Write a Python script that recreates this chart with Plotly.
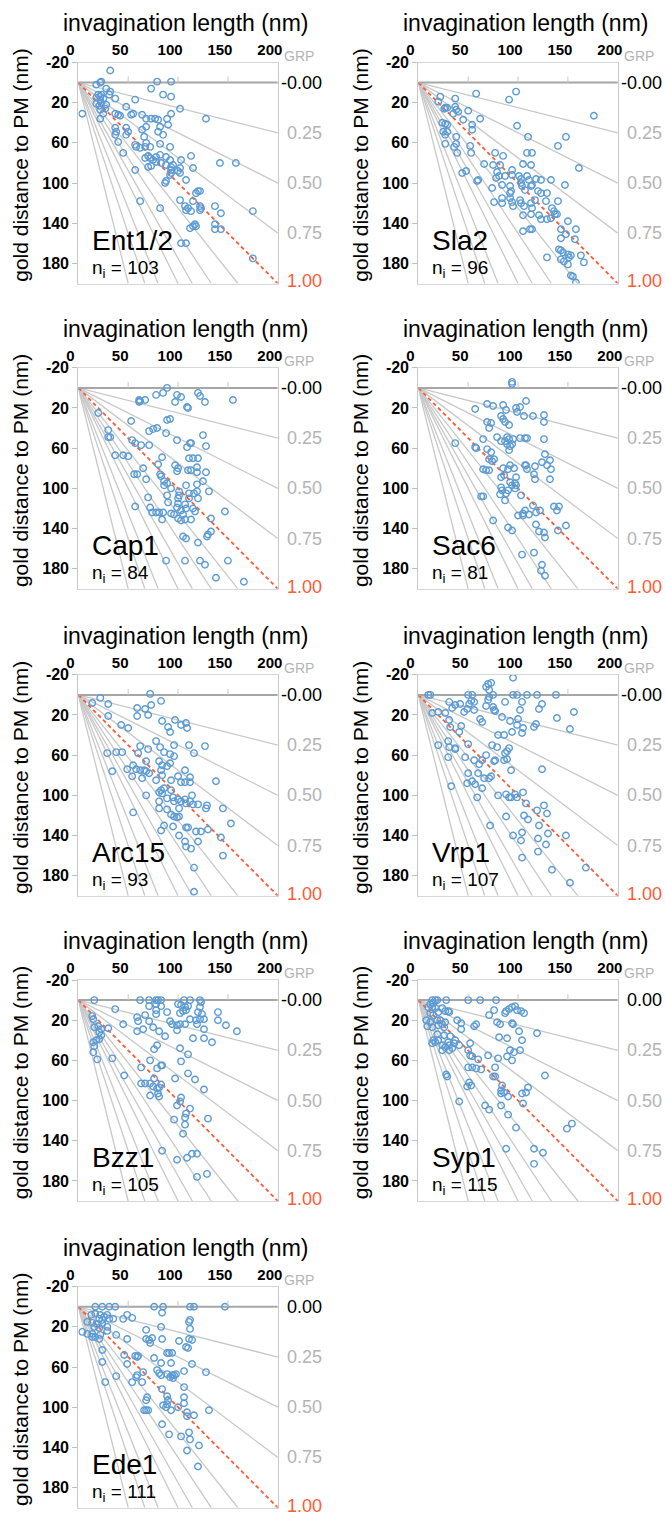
import plotly.graph_objects as go

W, H = 665, 1517

# ---------------- data ----------------
panel_names = ["Ent1/2", "Sla2", "Cap1", "Sac6", "Arc15", "Vrp1", "Bzz1", "Syp1", "Ede1"]
panel_counts = [103, 96, 84, 81, 93, 107, 105, 115, 111]

ent12 = [(32,-12),(18,2),(22,0),(23,-1),(79,-1),(93,-1),(73,6),(85,12),(93,14),(28,6),(32,9),(31,12),
         (20,12),(22,14),(23,12),(18,15),(22,17),(25,16),(57,17),(37,16),(18,21),(21,23),(23,20),(28,22),
         (4,31),(22,27),(27,26),(25,31),(22,36),(48,24),(102,26),(37,31),(40,32),(42,33),(55,31),(53,32),
         (64,32),(68,36),(73,36),(77,36),(80,37),(82,44),(89,36),(93,31),(128,36),(90,42),(37,45),(38,49),
         (37,52),(48,45),(50,49),(48,52),(40,59),(64,47),(66,54),(68,44),(80,49),(85,52),(45,70),(57,62),
         (58,64),(62,65),(67,64),(68,60),(72,64),(82,61),(92,64),(57,87),(62,118),(67,75),(70,73),(72,75),
         (75,77),(78,74),(82,72),(70,84),(73,83),(78,79),(83,80),(88,74),(88,82),(92,77),(93,84),(93,87),
         (95,82),(93,90),(92,92),(88,98),(87,100),(102,85),(100,88),(102,90),(103,77),(113,73),(115,85),
         (108,97),(102,117),(82,125),(107,123),(108,127),(110,125),(113,128),(118,110),(120,108),(122,108),
         (115,118),(122,123),(123,125),(122,127),(117,141),(118,143),(115,143),(112,145),(103,160),(108,160),
         (142,80),(158,80),(137,123),(137,141),(137,146),(143,130),(143,146),(175,128),(175,175)]

sla2 = [(58,11),(98,9),(91,17),(22,14),(20,19),(37,16),(27,25),(29,25),(26,26),(37,24),(38,27),(35,31),
        (40,29),(50,28),(45,37),(62,36),(99,43),(24,40),(27,41),(29,42),(25,49),(29,49),(27,52),(54,42),
        (54,47),(38,54),(110,54),(148,54),(140,63),(27,61),(38,61),(36,64),(39,70),(52,63),(53,70),(77,70),
        (85,73),(109,70),(114,70),(66,81),(75,82),(82,82),(105,81),(113,82),(161,85),(44,90),(48,88),(59,98),
        (60,97),(79,89),(78,95),(81,93),(87,93),(94,92),(94,87),(101,93),(103,96),(109,93),(111,97),(118,96),
        (123,97),(133,97),(147,102),(74,105),(84,102),(92,103),(93,108),(92,110),(103,100),(104,103),(107,107),
        (113,103),(114,102),(120,108),(123,110),(129,110),(76,119),(84,115),(84,120),(92,115),(94,119),(95,123),
        (102,117),(103,120),(106,123),(113,120),(114,125),(117,117),(128,118),(140,118),(134,125),(136,128),
        (137,131),(105,132),(113,131),(121,132),(123,136),(133,135),(129,136),(139,131),(105,148),(112,146),
        (114,146),(150,138),(143,146),(148,151),(143,155),(158,146),(141,166),(143,167),(145,169),(150,171),
        (153,172),(151,174),(143,176),(146,178),(150,181),(129,174),(163,172),(166,179),(157,156),(153,192),
        (155,193),(158,199),(176,33)]

cap1 = [(89,0),(85,5),(78,7),(61,12),(61,14),(62,13),(67,12),(99,7),(103,9),(97,14),(109,19),(110,20),
        (120,5),(122,8),(127,14),(155,12),(20,25),(53,33),(89,32),(92,31),(71,43),(75,41),(79,40),(30,42),
        (30,49),(32,49),(88,45),(99,52),(112,55),(113,55),(109,59),(125,47),(128,58),(54,52),(57,55),(63,57),
        (71,57),(37,67),(45,67),(50,68),(84,69),(65,80),(80,76),(56,86),(59,86),(82,86),(83,88),(68,91),
        (97,77),(100,80),(99,83),(111,70),(115,70),(120,70),(110,82),(113,82),(119,79),(119,84),(128,84),
        (125,93),(86,93),(89,95),(86,97),(93,100),(108,97),(119,96),(131,103),(101,103),(101,107),(100,110),
        (89,107),(111,105),(111,110),(116,105),(119,103),(70,109),(90,114),(100,115),(99,119),(107,116),
        (108,120),(120,110),(115,120),(117,123),(72,119),(74,124),(78,124),(81,124),(85,124),(93,125),(96,126),
        (103,122),(100,130),(103,132),(107,131),(105,126),(113,131),(57,118),(84,131),(133,130),(147,123),
        (133,143),(130,146),(129,148),(105,148),(108,150),(120,154),(88,172),(107,172),(122,172),(127,176),
        (150,172),(138,189),(166,193)]

sac6 = [(94,-6),(94,-4),(57,21),(69,16),(75,18),(85,17),(88,22),(98,20),(102,19),(99,24),(108,13),(106,28),
        (115,28),(126,27),(126,34),(83,28),(85,31),(87,34),(69,34),(73,35),(71,40),(91,37),(37,55),(65,51),
        (79,49),(83,53),(87,53),(89,49),(91,51),(95,51),(89,56),(92,58),(94,56),(102,50),(107,50),(109,50),
        (126,51),(57,59),(58,60),(69,61),(73,64),(71,71),(76,71),(74,73),(91,62),(127,66),(108,77),(109,81),
        (107,77),(117,78),(124,74),(129,77),(132,72),(65,81),(68,82),(71,82),(85,80),(90,81),(92,77),(96,80),
        (86,87),(83,89),(98,89),(116,86),(117,91),(133,81),(132,91),(92,94),(94,97),(97,95),(83,99),(84,102),
        (82,106),(88,105),(90,102),(97,100),(98,97),(103,107),(87,112),(63,108),(65,108),(115,117),(118,124),
        (100,127),(105,125),(107,122),(111,126),(105,127),(122,122),(136,118),(141,118),(139,122),(75,132),
        (118,136),(90,139),(94,142),(121,143),(126,144),(127,149),(140,142),(148,137),(104,166),(116,164),
        (124,176),(123,182),(127,187)]

arc15 = [(72,-1),(83,6),(73,10),(22,3),(14,8),(30,9),(59,13),(67,14),(59,21),(70,20),(30,21),(43,30),(50,33),
         (84,26),(90,32),(92,37),(97,25),(103,30),(108,28),(109,33),(78,46),(82,52),(62,51),(60,58),(70,54),
         (96,50),(111,50),(127,51),(116,58),(29,58),(38,57),(44,57),(86,57),(92,59),(96,61),(68,66),(55,70),
         (58,74),(62,75),(66,75),(68,76),(81,66),(84,70),(89,71),(92,68),(34,76),(49,74),(54,81),(64,83),
         (71,78),(83,75),(84,80),(78,85),(107,75),(100,81),(103,87),(107,87),(112,82),(112,87),(93,85),(138,86),
         (83,95),(81,97),(86,93),(84,98),(93,95),(68,100),(89,103),(95,102),(96,106),(100,104),(103,106),
         (107,104),(108,108),(112,106),(114,100),(115,109),(120,109),(129,110),(81,106),(81,113),(101,113),
         (89,114),(93,119),(96,121),(99,122),(101,121),(128,113),(145,113),(55,117),(108,132),(110,132),
         (86,130),(95,131),(83,135),(118,136),(123,136),(130,134),(153,128),(143,142),(101,140),(107,146),
         (108,151),(113,153),(120,146),(145,160),(116,172),(116,196)]

vrp1 = [(95,-17),(70,-11),(73,-12),(68,-8),(71,-5),(10,0),(12,0),(50,0),(54,0),(75,0),(95,0),(99,0),(109,0),
        (119,0),(138,0),(53,6),(51,9),(56,7),(70,5),(71,2),(87,7),(31,7),(37,10),(42,9),(34,13),(46,17),
        (49,14),(56,15),(68,11),(75,12),(76,15),(77,16),(104,7),(124,9),(121,14),(102,15),(156,17),(14,18),
        (20,17),(27,18),(62,24),(64,27),(84,22),(92,26),(100,24),(99,30),(105,33),(104,38),(118,29),(116,32),
        (139,23),(152,34),(31,25),(32,32),(43,31),(41,37),(94,37),(80,40),(86,40),(20,50),(30,46),(31,52),
        (37,53),(37,54),(50,49),(74,50),(79,52),(87,58),(89,56),(91,53),(89,64),(86,65),(77,65),(76,66),
        (68,60),(30,62),(47,62),(56,65),(61,69),(64,65),(93,75),(124,74),(50,78),(60,78),(66,83),(71,83),
        (73,81),(49,88),(54,86),(57,89),(64,93),(59,102),(33,91),(80,100),(88,99),(91,102),(93,102),(97,99),
        (99,102),(105,97),(108,108),(119,115),(126,110),(129,118),(88,121),(106,120),(110,124),(121,130),
        (72,130),(104,137),(95,140),(103,145),(120,143),(130,138),(128,149),(148,140),(120,156),(104,162),
        (134,174),(168,172),(152,187)]

bzz1 = [(16,0),(62,0),(71,0),(78,0),(80,0),(83,0),(106,0),(112,0),(122,0),(123,2),(71,6),(78,4),(83,6),
        (100,4),(103,5),(107,7),(110,6),(108,10),(105,11),(102,13),(122,7),(120,12),(37,9),(78,10),(78,14),
        (89,12),(140,12),(140,20),(124,14),(122,19),(126,19),(59,17),(60,21),(71,21),(67,15),(45,24),(92,21),
        (94,24),(99,25),(102,24),(107,24),(112,19),(118,20),(119,24),(148,25),(159,31),(14,16),(15,19),
        (16,27),(20,26),(23,29),(21,32),(23,35),(21,39),(18,40),(30,28),(15,42),(16,46),(15,52),(19,59),
        (59,31),(65,29),(75,27),(81,31),(87,36),(99,30),(126,29),(115,38),(126,38),(134,42),(79,45),(76,49),
        (102,48),(110,54),(103,61),(72,60),(34,58),(63,67),(79,68),(83,65),(84,65),(46,75),(76,78),(97,78),
        (110,73),(117,79),(63,83),(67,83),(72,83),(75,86),(79,88),(81,87),(83,84),(80,93),(81,96),(72,95),
        (126,89),(103,97),(102,101),(99,105),(112,108),(108,113),(107,117),(96,119),(107,124),(130,118),
        (105,133),(84,150),(99,159),(109,157),(114,153),(119,153),(119,176),(129,173)]

syp1 = [(14,0),(17,0),(19,0),(28,0),(50,0),(62,0),(78,0),(12,4),(15,3),(14,7),(10,7),(17,8),(24,8),(27,11),
        (30,11),(31,12),(20,12),(12,13),(15,15),(8,20),(12,22),(9,26),(14,27),(19,20),(22,20),(24,24),(27,22),
        (26,27),(20,25),(39,20),(43,23),(43,29),(56,26),(58,24),(71,15),(76,10),(87,13),(88,11),(91,9),(94,7),
        (97,6),(99,10),(103,11),(106,13),(79,22),(82,24),(94,23),(95,24),(101,31),(119,33),(81,37),(89,38),
        (104,40),(19,34),(26,35),(32,36),(37,40),(15,40),(14,43),(17,42),(20,40),(24,50),(24,45),(27,47),
        (31,45),(31,50),(34,48),(30,42),(36,43),(41,45),(52,43),(50,50),(52,55),(54,56),(60,59),(70,55),
        (80,58),(89,56),(92,50),(96,52),(102,50),(94,60),(50,67),(54,67),(58,68),(63,69),(77,67),(28,74),
        (29,76),(75,76),(77,76),(127,75),(51,82),(53,85),(49,86),(84,85),(83,90),(83,93),(86,92),(90,96),
        (104,93),(108,92),(110,87),(41,101),(67,105),(71,109),(83,105),(90,114),(105,103),(98,127),(149,128),
        (154,123),(88,148),(116,148),(125,152),(116,163)]

ede1 = [(17,0),(24,0),(31,0),(37,0),(76,0),(85,0),(112,0),(116,0),(147,0),(13,8),(17,7),(22,8),(26,10),
        (29,8),(21,12),(24,13),(31,12),(35,12),(45,12),(49,8),(54,11),(84,6),(112,13),(111,15),(112,22),
        (9,15),(14,16),(19,17),(24,17),(16,20),(21,21),(29,20),(29,24),(4,25),(9,27),(14,27),(17,30),(22,28),
        (21,32),(14,30),(38,28),(49,32),(68,23),(83,20),(68,32),(71,33),(74,31),(72,36),(84,32),(101,34),
        (111,32),(114,33),(108,40),(110,41),(24,43),(24,55),(27,75),(38,69),(46,48),(49,57),(57,49),(60,49),
        (59,50),(76,51),(83,56),(89,46),(91,46),(94,46),(93,56),(114,57),(54,75),(58,70),(59,68),(64,75),
        (65,65),(79,63),(81,66),(83,68),(89,67),(92,70),(95,71),(94,68),(96,68),(98,67),(106,64),(128,65),
        (84,82),(68,93),(69,90),(66,103),(68,103),(70,103),(89,89),(90,93),(89,97),(85,98),(88,100),(93,103),
        (100,100),(106,80),(106,90),(106,96),(109,105),(109,109),(116,108),(131,103),(84,117),(91,127),
        (103,129),(111,125),(112,132),(109,143),(121,138),(120,159)]

panel_points = [ent12, sla2, cap1, sac6, arc15, vrp1, bzz1, syp1, ede1]

x_ticks = [0, 50, 100, 150, 200]
y_ticks = [-20, 20, 60, 100, 140, 180]
zero_ticks = [50, 100, 150]
grp_shallow = [0.25, 0.50, 0.75]                      # GRP lines ending on the right edge
grp_steep = [1.25, 1.5, 1.75, 2.0, 2.5, 3.0, 4.0]     # GRP lines ending on the bottom edge
grp_labels = [0.00, 0.25, 0.50, 0.75, 1.00]
dash_zero = [True, True, True, True, True, True, True, False, False]

XMAX, YMIN, YMAX = 200, -20, 200

# ---------------- style / layout geometry ----------------
FONT = "Liberation Sans, Arial, Helvetica, sans-serif"
NARROW = "Liberation Sans Narrow, Arial Narrow, Liberation Sans, Arial, sans-serif"
BLUE = "#5B9BD5"
RED = "#FF5A36"
GRID = "#C8C8C8"
LBLGRAY = "#B4B4B4"

col_x0 = [78.3, 418.3]
pw = 199.5
row_top = [62.5, 367.8, 674.8, 980.0, 1286.7]
ph = 221.0

fig = go.Figure()
annotations = []
shapes = []
layout_axes = {}

for i, name in enumerate(panel_names):
    k = i + 1
    r, c = divmod(i, 2)
    x0 = col_x0[c]
    top = row_top[r]
    xa = "x" if k == 1 else f"x{k}"
    ya = "y" if k == 1 else f"y{k}"
    xkey = "xaxis" if k == 1 else f"xaxis{k}"
    ykey = "yaxis" if k == 1 else f"yaxis{k}"

    layout_axes[xkey] = dict(
        domain=[x0 / W, (x0 + pw) / W], anchor=ya, range=[0, XMAX], side="top",
        tickvals=x_ticks, ticktext=[str(v) for v in x_ticks], ticks="",
        ticklabelshift=-8,
        tickfont=dict(family=NARROW, size=15, color="black", weight="bold"),
        showgrid=False, zeroline=False, showline=True, linecolor="#D6D6D6", linewidth=1.2,
        mirror=True, fixedrange=True, automargin=False,
    )
    layout_axes[ykey] = dict(
        domain=[1 - (top + ph) / H, 1 - top / H], anchor=xa, range=[YMAX, YMIN],
        tickvals=y_ticks, ticktext=[str(v) for v in y_ticks], ticks="outside", ticklen=5,
        tickcolor="#BFBFBF", tickwidth=1.2,
        tickfont=dict(family=FONT, size=16, color="black", weight="bold"),
        showgrid=False, zeroline=False, showline=True, linecolor="#C8C8C8", linewidth=1.2,
        mirror=True, fixedrange=True, automargin=False,
    )

    # GRP fan lines
    lx, ly = [], []
    for g in grp_shallow:
        lx += [0, XMAX, None]
        ly += [0, XMAX * g, None]
    for g in grp_steep:
        lx += [0, YMAX / g, None]
        ly += [0, YMAX, None]
    fig.add_trace(go.Scatter(x=lx, y=ly, xaxis=xa, yaxis=ya, mode="lines",
                             line=dict(color=GRID, width=1.3), hoverinfo="skip"))
    # GRP = 1 (dashed red)
    fig.add_trace(go.Scatter(x=[0, XMAX], y=[0, XMAX], xaxis=xa, yaxis=ya, mode="lines",
                             line=dict(color=RED, width=1.8, dash="4px,3px"), hoverinfo="skip"))
    # GRP = 0 (membrane line)
    fig.add_trace(go.Scatter(x=[0, XMAX], y=[0, 0], xaxis=xa, yaxis=ya, mode="lines",
                             line=dict(color="#A6A6A6", width=2), hoverinfo="skip"))
    for t in zero_ticks:
        shapes.append(dict(type="line", xref=xa, yref=ya, x0=t, x1=t, y0=0, y1=-6,
                           line=dict(color="#C8C8C8", width=1)))

    pts = panel_points[i]
    fig.add_trace(go.Scatter(
        x=[p[0] for p in pts], y=[p[1] for p in pts], xaxis=xa, yaxis=ya, mode="markers",
        marker=dict(symbol="circle-open", size=6.5, color=BLUE, line=dict(width=1.4, color=BLUE)),
        hoverinfo="skip"))

    # titles
    annotations.append(dict(text="invagination length (nm)", xref="paper", yref="paper",
                            x=(x0 + 107) / W, y=1 - (top - 39) / H, xanchor="center", yanchor="middle",
                            showarrow=False, font=dict(family=FONT, size=23, color="black")))
    annotations.append(dict(text="gold distance to PM (nm)", xref="paper", yref="paper",
                            x=(x0 - 58) / W, y=1 - (top + 103) / H, xanchor="center", yanchor="middle",
                            textangle=-90, showarrow=False, font=dict(family=FONT, size=21, color="black")))
    annotations.append(dict(text="GRP", xref="paper", yref="paper",
                            x=(x0 + pw + 4) / W, y=1 - (top - 7) / H, xanchor="left", yanchor="middle",
                            showarrow=False, font=dict(family=FONT, size=14, color=LBLGRAY)))
    for j, g in enumerate(grp_labels):
        txt = f"{g:.2f}"
        ys = 0
        if j == 0:
            col = "black"
            if dash_zero[i]:
                txt = "-" + txt
                xs = 1
            else:
                xs = 7
        elif j == len(grp_labels) - 1:
            col, xs, ys = RED, 7, 2
        else:
            col, xs = LBLGRAY, 7
        annotations.append(dict(text=txt, xref=xa, yref=ya, x=XMAX, y=XMAX * g,
                                xanchor="left", yanchor="middle", xshift=xs, yshift=ys, showarrow=False,
                                font=dict(family=FONT, size=18, color=col)))
    annotations.append(dict(text=name, xref="paper", yref="paper",
                            x=(x0 + 12) / W, y=1 - (top + 177.5) / H, xanchor="left", yanchor="middle",
                            showarrow=False, font=dict(family=FONT, size=28, color="black")))
    annotations.append(dict(text=f"n<sub>i</sub> = {panel_counts[i]}", xref="paper", yref="paper",
                            x=(x0 + 12) / W, y=1 - (top + 206) / H, xanchor="left", yanchor="middle",
                            showarrow=False, font=dict(family=FONT, size=19, color="black")))

fig.update_layout(
    width=W, height=H, margin=dict(l=0, r=0, t=0, b=0),
    paper_bgcolor="white", plot_bgcolor="white", showlegend=False,
    annotations=annotations, shapes=shapes, **layout_axes,
)

fig.write_html("out.html", config={"displayModeBar": False},
               post_script="document.body.style.margin='0px';document.body.style.overflow='hidden';")
